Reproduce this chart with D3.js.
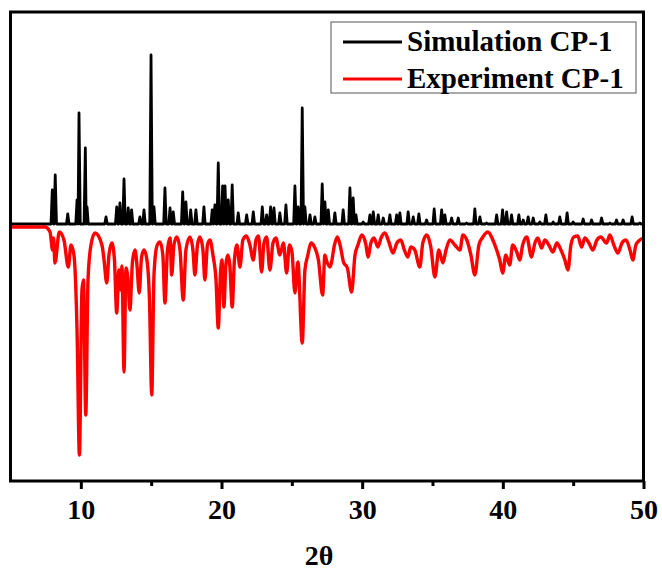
<!DOCTYPE html>
<html>
<head>
<meta charset="utf-8">
<script src="https://cdn.jsdelivr.net/npm/d3@7"></script>
<style>
  html, body { margin: 0; padding: 0; background: #fff; }
  svg { display: block; }
  text { font-family: "Liberation Serif", "Times New Roman", serif; font-weight: bold; }
</style>
</head>
<body>
<script>
// ---- data ----
const xTicks = [10, 20, 30, 40, 50];
const xMinorTicks = [15, 25, 35, 45];
const seriesNames = ["Simulation CP-1", "Experiment CP-1"];
const seriesColors = ["#000000", "#ff0000"];

// Simulated pattern: peak positions (2θ) and intensities (a.u., offset baseline = 0)
const simPeakPos = [7.97, 8.18, 9.07, 9.73, 9.87, 10.32, 10.44, 11.79, 12.55, 12.78, 13.07, 13.37, 13.61, 14.20, 14.49,
  14.99, 15.20, 15.98, 16.34, 16.57, 17.24, 17.47, 17.81, 18.18, 18.75, 19.34, 19.53, 19.77, 20.08, 20.25, 20.48, 20.76,
  21.19, 21.79, 22.26, 22.90, 23.21, 23.49, 23.73, 24.15, 24.58, 25.22, 25.45, 25.74, 25.93, 26.29, 26.64, 27.16, 27.35,
  27.59, 28.06, 28.65, 29.13, 29.36, 29.56, 30.07, 30.55, 30.79, 31.14, 31.50, 31.97, 32.45, 32.68, 33.27, 33.63, 34.03,
  34.58, 35.12, 35.65, 35.88, 36.36, 36.83, 37.42, 38.01, 38.37, 38.84, 39.56, 39.98, 40.27, 40.62, 41.14, 41.45, 41.80,
  42.16, 42.63, 43.06, 43.58, 44.05, 44.57, 45.00, 45.71, 46.31, 47.02, 47.61, 48.08, 48.55, 49.19, 49.74];
const simPeakInt = [34, 49, 10, 24, 111, 76, 17, 7, 17, 21, 45, 16, 14, 7, 14,
  169, 17, 36, 16, 12, 32, 22, 14, 14, 17, 14, 19, 61, 38, 38, 24, 39,
  11, 9, 12, 17, 9, 17, 16, 11, 19, 38, 17, 116, 17, 9, 7, 40, 22,
  14, 11, 14, 36, 26, 9, 2, 9, 12, 9, 6, 9, 9, 11, 12, 7, 10,
  4, 15, 14, 9, 6, 6, 1, 15, 7, 1, 9, 14, 12, 9, 9, 4, 7,
  6, 2, 9, 2, 7, 11, 2, 5, 4, 6, 1, 4, 4, 7, 1];
const simBaseline = 0;

// Experimental pattern (plotted downward): 2θ and intensity (a.u.)
const expTheta = [5.00, 7.45, 7.81, 7.99, 8.06, 8.16, 8.47, 8.80, 9.11, 9.30, 9.51, 9.73, 9.90, 10.08, 10.19, 10.35, 10.51,
  10.72, 11.01, 11.50, 11.65, 11.84, 12.00, 12.21, 12.39, 12.55, 12.71, 12.85, 12.92, 13.07, 13.21, 13.35, 13.49, 13.67,
  13.85, 13.99, 14.15, 14.31, 14.49, 14.70, 14.88, 15.04, 15.20, 15.41, 15.63, 15.83, 15.98, 16.16, 16.34, 16.46, 16.62,
  16.83, 17.05, 17.28, 17.47, 17.76, 17.97, 18.11, 18.29, 18.47, 18.68, 18.82, 19.00, 19.18, 19.39, 19.61, 19.77, 19.92,
  20.03, 20.17, 20.31, 20.45, 20.59, 20.76, 20.92, 21.10, 21.31, 21.52, 21.77, 22.02, 22.26, 22.45, 22.63, 22.85, 23.02,
  23.21, 23.44, 23.66, 23.87, 24.15, 24.40, 24.63, 24.83, 25.01, 25.22, 25.43, 25.74, 25.93, 26.14, 26.36, 26.61, 26.89,
  27.19, 27.35, 27.50, 27.71, 27.81, 28.03, 28.24, 28.46, 28.67, 28.95, 29.25, 29.49, 29.70, 29.98, 30.27, 30.41, 30.62,
  30.84, 31.12, 31.34, 31.62, 31.90, 32.19, 32.47, 32.75, 33.00, 33.25, 33.46, 33.74, 34.10, 34.31, 34.60, 34.88, 35.17,
  35.45, 35.74, 35.96, 36.24, 36.59, 36.95, 37.16, 37.44, 37.73, 38.01, 38.30, 38.58, 38.94, 39.29, 39.56, 39.78, 39.99,
  40.21, 40.49, 40.70, 40.99, 41.20, 41.41, 41.70, 42.04, 42.28, 42.49, 42.75, 42.99, 43.27, 43.56, 43.84, 44.13, 44.41,
  44.63, 44.84, 45.05, 45.33, 45.60, 45.83, 46.12, 46.40, 46.69, 46.97, 47.37, 47.61, 47.89, 48.18, 48.47, 48.75, 49.04,
  49.24, 49.46, 49.74, 50.00];
const expInt = [-3, -3, -8, -26, -14, -39, -8, -16, -43, -21, -31, -106, -231, -66, -56, -191, -56,
  -21, -9, -21, -36, -59, -31, -19, -36, -89, -46, -66, -42, -148, -44, -56, -86, -38,
  -26, -41, -69, -34, -26, -36, -76, -171, -51, -22, -18, -31, -79, -26, -14, -51, -21,
  -13, -26, -76, -26, -13, -26, -51, -21, -13, -26, -56, -21, -16, -31, -56, -104, -51,
  -36, -83, -41, -31, -41, -83, -36, -21, -43, -16, -12, -21, -36, -16, -12, -48, -19,
  -13, -46, -19, -14, -31, -19, -49, -21, -28, -69, -38, -119, -46, -31, -19, -23, -36,
  -71, -31, -38, -43, -39, -21, -13, -23, -38, -44, -68, -31, -21, -11, -21, -33, -19,
  -14, -23, -14, -9, -18, -29, -19, -16, -26, -33, -23, -26, -43, -19, -11, -23, -53,
  -26, -39, -26, -16, -21, -26, -11, -16, -31, -51, -21, -13, -8, -16, -26, -36, -49,
  -31, -41, -21, -28, -36, -21, -13, -33, -19, -14, -24, -16, -21, -28, -19, -26, -36,
  -46, -21, -13, -12, -23, -14, -19, -26, -16, -13, -19, -11, -21, -29, -19, -16, -26,
  -36, -21, -16, -14];

const xDomain = [5, 50];
const yDomain = [-257, 212];

// ---- layout ----
const W = 662, H = 570;
const plot = { left: 10.5, right: 643.5, top: 12, bottom: 481 };

const svg = d3.select("body").append("svg").attr("width", W).attr("height", H);

const x = d3.scaleLinear().domain(xDomain).range([plot.left, plot.right]);
const y = d3.scaleLinear().domain(yDomain).range([plot.bottom, plot.top]);

svg.append("defs").append("clipPath").attr("id", "clip")
  .append("rect").attr("x", plot.left).attr("y", plot.top)
  .attr("width", plot.right - plot.left).attr("height", plot.bottom - plot.top);

// Simulated line points: baseline - peak - baseline for each listed peak
const simPts = [[xDomain[0], simBaseline]];
simPeakPos.forEach((p, i) => {
  const prev = i > 0 ? simPeakPos[i - 1] : -Infinity;
  const next = i < simPeakPos.length - 1 ? simPeakPos[i + 1] : Infinity;
  const wl = Math.min(0.09, (p - prev) / 2);
  const wr = Math.min(0.09, (next - p) / 2);
  simPts.push([p - wl, simBaseline]);
  simPts.push([p, simBaseline + simPeakInt[i]]);
  simPts.push([p + wr, simBaseline]);
});
simPts.push([xDomain[1], simBaseline]);

const expPts = expTheta.map((t, i) => [t, expInt[i]]);

const g = svg.append("g").attr("clip-path", "url(#clip)");

g.append("path")
  .datum(simPts)
  .attr("fill", "none")
  .attr("stroke", seriesColors[0])
  .attr("stroke-width", 2.8)
  .attr("stroke-linejoin", "round")
  .attr("d", d3.line().x(d => x(d[0])).y(d => y(d[1])));

g.append("path")
  .datum(expPts)
  .attr("fill", "none")
  .attr("stroke", seriesColors[1])
  .attr("stroke-width", 3.4)
  .attr("stroke-linejoin", "round")
  .attr("d", d3.line().curve(d3.curveMonotoneX).x(d => x(d[0])).y(d => y(d[1])));

// ---- axes / frame ----
const xAxis = d3.axisBottom(x).tickValues(xTicks).tickSize(8).tickSizeOuter(0).tickFormat(d3.format("d"));
const ax = svg.append("g").attr("transform", `translate(0,${plot.bottom})`).call(xAxis);
ax.select(".domain").remove();
ax.selectAll(".tick line").attr("stroke", "#000").attr("stroke-width", 3);
ax.selectAll(".tick text")
  .attr("y", 18)
  .attr("dy", "0.71em")
  .attr("font-size", 28)
  .attr("fill", "#000")
  .style("font-family", '"Liberation Serif", serif')
  .style("font-weight", "bold");

const minor = d3.axisBottom(x).tickValues(xMinorTicks).tickSize(5).tickSizeOuter(0).tickFormat("");
const mx = svg.append("g").attr("transform", `translate(0,${plot.bottom})`).call(minor);
mx.select(".domain").remove();
mx.selectAll(".tick line").attr("stroke", "#000").attr("stroke-width", 3);

svg.append("rect")
  .attr("x", plot.left).attr("y", plot.top)
  .attr("width", plot.right - plot.left).attr("height", plot.bottom - plot.top)
  .attr("fill", "none").attr("stroke", "#000").attr("stroke-width", 3);

svg.append("text")
  .attr("x", (plot.left + plot.right) / 2 - 8)
  .attr("y", 565)
  .attr("text-anchor", "middle")
  .attr("font-size", 28)
  .text("2θ");

// ---- legend ----
const leg = svg.append("g");
leg.append("rect").attr("x", 331).attr("y", 22).attr("width", 305).attr("height", 71)
  .attr("fill", "#fff").attr("stroke", "#555").attr("stroke-width", 1);
seriesNames.forEach((name, i) => {
  const ly = 42 + i * 37;
  leg.append("line").attr("x1", 343).attr("x2", 402).attr("y1", ly).attr("y2", ly)
    .attr("stroke", seriesColors[i]).attr("stroke-width", 3);
  leg.append("text").attr("x", 407).attr("y", ly + 8.5).attr("font-size", 29).attr("fill", "#000").text(name);
});
</script>
</body>
</html>
